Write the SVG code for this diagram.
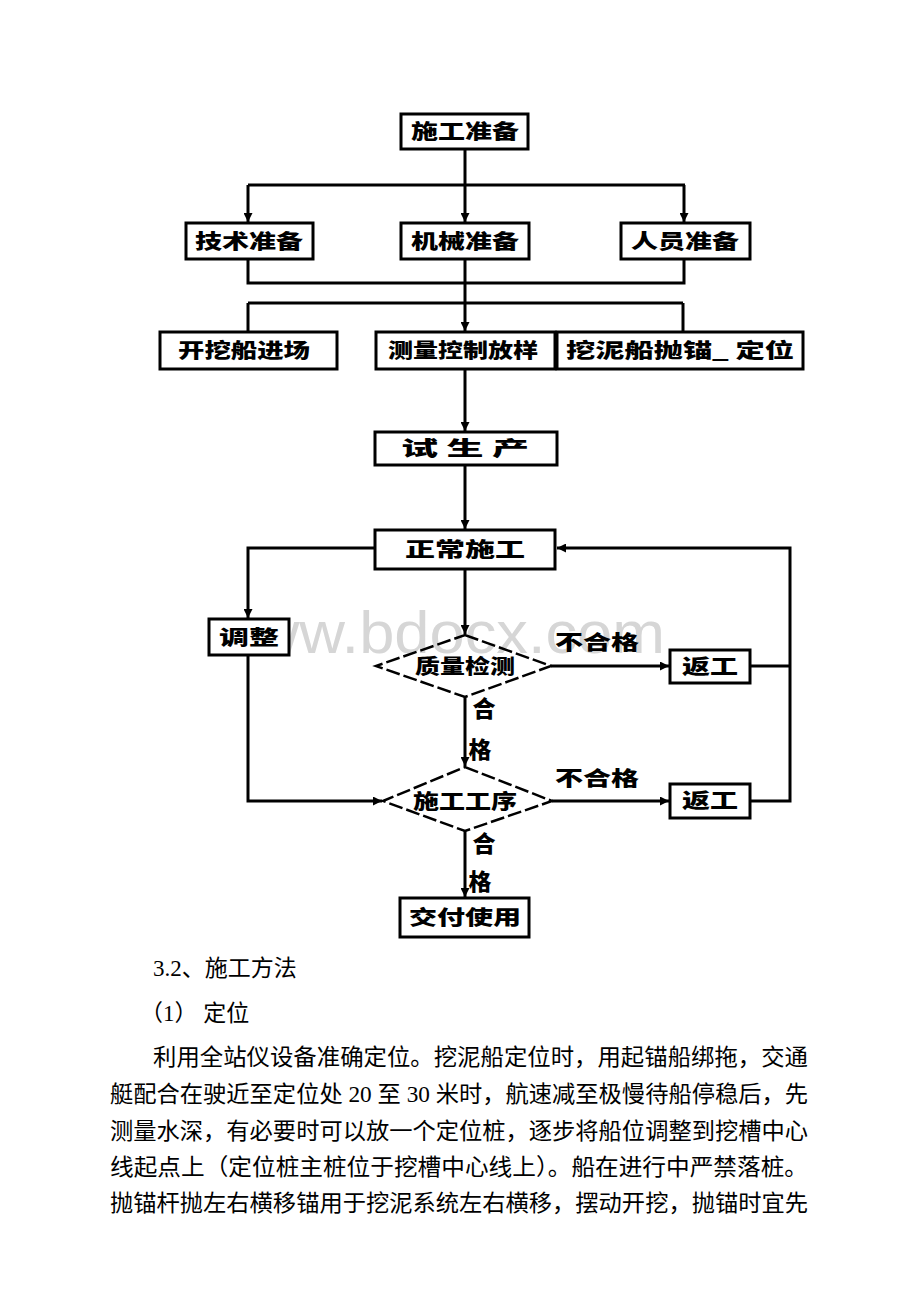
<svg xmlns="http://www.w3.org/2000/svg" width="920" height="1302" viewBox="0 0 920 1302">
<style>
.box{fill:#fff;stroke:#000;stroke-width:3}
.dia{fill:none;stroke:#000;stroke-width:2.5;stroke-dasharray:14 4}
.ln{fill:none;stroke:#000;stroke-width:3}
.lb{font-family:"Noto Sans CJK SC",sans-serif;font-weight:900;font-size:20px;fill:#000;text-anchor:middle}
.yes{font-family:"Noto Sans CJK SC",sans-serif;font-weight:900;font-size:23px;fill:#000;text-anchor:middle}
.body{font-family:"Liberation Serif","Noto Sans CJK SC",serif;font-size:23px;fill:#000}
.wm{font-family:"Liberation Sans",sans-serif;font-size:60px;fill:#d6d6d6}
</style>
<defs>
<marker id="ah" viewBox="0 0 10 10" refX="10" refY="5" markerWidth="3" markerHeight="3" orient="auto" markerUnits="strokeWidth">
<path d="M0,0 L10,5 L0,10 z" fill="#000"/>
</marker>
</defs>
<rect width="920" height="1302" fill="#fff"/>
<text class="wm" x="208" y="653" textLength="457" lengthAdjust="spacingAndGlyphs">www.bdocx.com</text>

<g id="connectors">
<path class="ln" d="M465,149 V185"/>
<path class="ln" d="M248,185 H685"/>
<path class="ln" d="M248,185 V222" marker-end="url(#ah)"/>
<path class="ln" d="M465,185 V222" marker-end="url(#ah)"/>
<path class="ln" d="M684,185 V222" marker-end="url(#ah)"/>
<path class="ln" d="M248,259 V283 H684 V259"/>
<path class="ln" d="M465,259 V303"/>
<path class="ln" d="M248,303 H683"/>
<path class="ln" d="M248,303 V331"/>
<path class="ln" d="M465,303 V331" marker-end="url(#ah)"/>
<path class="ln" d="M683,303 V331"/>
<path class="ln" d="M465,369 V431" marker-end="url(#ah)"/>
<path class="ln" d="M465,465 V529" marker-end="url(#ah)"/>
<path class="ln" d="M465,569 V634" marker-end="url(#ah)"/>
<path class="ln" d="M375,548 H248 V618" marker-end="url(#ah)"/>
<path class="ln" d="M248,655 V801 H382" marker-end="url(#ah)"/>
<path class="ln" d="M465,697 V766" marker-end="url(#ah)"/>
<path class="ln" d="M465,831 V897" marker-end="url(#ah)"/>
<path class="ln" d="M551,666 H669" marker-end="url(#ah)"/>
<path class="ln" d="M552,801 H669" marker-end="url(#ah)"/>
<path class="ln" d="M750,666 H790"/>
<path class="ln" d="M750,801 H790 V548 H557" marker-end="url(#ah)"/>
</g>

<g id="n-top"><rect class="box" x="401" y="114" width="127" height="35"/><text class="lb" x="465" y="139" textLength="108" lengthAdjust="spacingAndGlyphs">施工准备</text></g>
<g id="n-r2a"><rect class="box" x="186" y="223" width="127" height="36"/><text class="lb" x="249" y="249" textLength="108" lengthAdjust="spacingAndGlyphs">技术准备</text></g>
<g id="n-r2b"><rect class="box" x="401" y="223" width="128" height="36"/><text class="lb" x="465" y="249" textLength="108" lengthAdjust="spacingAndGlyphs">机械准备</text></g>
<g id="n-r2c"><rect class="box" x="621" y="223" width="129" height="36"/><text class="lb" x="685" y="249" textLength="108" lengthAdjust="spacingAndGlyphs">人员准备</text></g>
<g id="n-r3a"><rect class="box" x="160" y="332" width="177" height="37"/><text class="lb" x="244" y="358" textLength="132" lengthAdjust="spacingAndGlyphs">开挖船进场</text></g>
<g id="n-r3b"><rect class="box" x="376" y="332" width="179" height="37"/><text class="lb" x="463" y="358" textLength="150" lengthAdjust="spacingAndGlyphs">测量控制放样</text></g>
<g id="n-r3c"><rect class="box" x="557" y="332" width="246" height="37"/><text class="lb" x="680" y="358" textLength="228" lengthAdjust="spacingAndGlyphs">挖泥船抛锚_ 定位</text></g>
<g id="n-try"><rect class="box" x="375" y="432" width="182" height="33"/><text class="lb" x="465" y="456" textLength="128" lengthAdjust="spacingAndGlyphs">试 生 产</text></g>
<g id="n-normal"><rect class="box" x="375" y="530" width="180" height="39"/><text class="lb" x="465" y="557" textLength="120" lengthAdjust="spacingAndGlyphs">正常施工</text></g>
<g id="n-adjust"><rect class="box" x="209" y="619" width="80" height="36"/><text class="lb" x="249" y="645" textLength="60" lengthAdjust="spacingAndGlyphs">调整</text></g>
<g id="n-qc"><polygon class="dia" points="465,635 551,666 465,697 376,666"/><text class="lb" x="465" y="674" textLength="100" lengthAdjust="spacingAndGlyphs">质量检测</text></g>
<g id="n-rework1"><rect class="box" x="670" y="650" width="80" height="33"/><text class="lb" x="710" y="674" textLength="56" lengthAdjust="spacingAndGlyphs">返工</text></g>
<g id="n-proc"><polygon class="dia" points="465,767 552,801 465,831 383,801"/><text class="lb" x="465" y="809" textLength="104" lengthAdjust="spacingAndGlyphs">施工工序</text></g>
<g id="n-rework2"><rect class="box" x="670" y="784" width="80" height="34"/><text class="lb" x="710" y="808" textLength="56" lengthAdjust="spacingAndGlyphs">返工</text></g>
<g id="n-deliver"><rect class="box" x="400" y="898" width="129" height="39"/><text class="lb" x="465" y="925" textLength="112" lengthAdjust="spacingAndGlyphs">交付使用</text></g>

<g id="labels">
<text class="lb" x="597" y="650" textLength="84" lengthAdjust="spacingAndGlyphs">不合格</text>
<text class="lb" x="597" y="786" textLength="84" lengthAdjust="spacingAndGlyphs">不合格</text>
<text class="yes" x="484" y="717">合</text>
<text class="yes" x="480" y="758">格</text>
<text class="yes" x="484" y="852">合</text>
<text class="yes" x="480" y="890">格</text>
</g>

<g id="body">
<text class="body" x="153" y="976">3.2、施工方法</text>
<text class="body" x="140" y="1021">（1） 定位</text>
<text class="body" x="153" y="1065" textLength="655" lengthAdjust="spacingAndGlyphs">利用全站仪设备准确定位。挖泥船定位时，用起锚船绑拖，交通</text>
<text class="body" x="110" y="1102" textLength="698" lengthAdjust="spacingAndGlyphs">艇配合在驶近至定位处 20 至 30 米时，航速减至极慢待船停稳后，先</text>
<text class="body" x="110" y="1139" textLength="698" lengthAdjust="spacingAndGlyphs">测量水深，有必要时可以放一个定位桩，逐步将船位调整到挖槽中心</text>
<text class="body" x="110" y="1175" textLength="698" lengthAdjust="spacingAndGlyphs">线起点上（定位桩主桩位于挖槽中心线上）。船在进行中严禁落桩。</text>
<text class="body" x="110" y="1211" textLength="698" lengthAdjust="spacingAndGlyphs">抛锚杆抛左右横移锚用于挖泥系统左右横移，摆动开挖，抛锚时宜先</text>
</g>
</svg>
